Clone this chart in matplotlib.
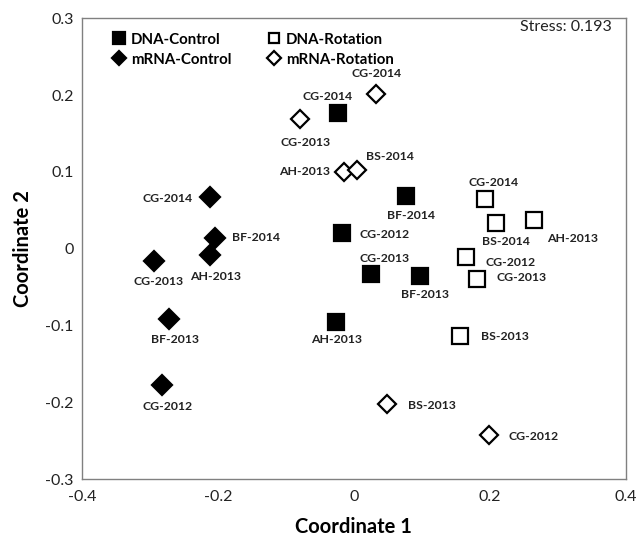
import matplotlib
matplotlib.use("Agg")
import matplotlib.pyplot as plt

plt.rcParams['font.family'] = ['Lato', 'DejaVu Sans']

# DNA-Control (filled squares)
dna_ctrl_names = ['CG-2014', 'BF-2014', 'CG-2012', 'CG-2013', 'BF-2013', 'AH-2013']
dna_ctrl_x = [-0.024, 0.076, -0.018, 0.025, 0.097, -0.026]
dna_ctrl_y = [0.176, 0.069, 0.020, -0.033, -0.035, -0.095]

# DNA-Rotation (open squares)
dna_rot_names = ['CG-2014', 'BS-2014', 'AH-2013', 'CG-2012', 'CG-2013', 'BS-2013']
dna_rot_x = [0.193, 0.209, 0.265, 0.165, 0.181, 0.156]
dna_rot_y = [0.064, 0.034, 0.037, -0.011, -0.040, -0.114]

# mRNA-Control (filled diamonds)
mrna_ctrl_names = ['CG-2014', 'BF-2014', 'AH-2013', 'CG-2013', 'BF-2013', 'CG-2012']
mrna_ctrl_x = [-0.212, -0.204, -0.211, -0.294, -0.272, -0.282]
mrna_ctrl_y = [0.067, 0.014, -0.008, -0.016, -0.091, -0.178]

# mRNA-Rotation (open diamonds)
mrna_rot_names = ['CG-2014', 'CG-2013', 'AH-2013', 'BS-2014', 'BS-2013', 'CG-2012']
mrna_rot_x = [0.033, -0.079, -0.015, 0.005, 0.049, 0.198]
mrna_rot_y = [0.201, 0.169, 0.100, 0.102, -0.202, -0.243]

stress = 0.193

# label placement (offset in points, alignment)
dna_ctrl_off = [(-7, 12, 'center'), (4, -14, 'center'), (13, -1, 'left'),
                (10, 11, 'center'), (4, -14, 'center'), (0, -13, 'center')]
dna_rot_off = [(6, 12, 'center'), (7, -14, 'center'), (9, -13, 'left'),
               (14, -4, 'left'), (14, 1, 'left'), (15, 0, 'left')]
mrna_ctrl_off = [(-12, -1, 'right'), (12, 0, 'left'), (4, -16, 'center'),
                 (3, -15, 'center'), (4, -15, 'center'), (4, -15, 'center')]
mrna_rot_off = [(0, 15, 'center'), (4, -17, 'center'), (-10, 0, 'right'),
                (6, 10, 'left'), (15, -1, 'left'), (14, -1, 'left')]

fig = plt.figure(figsize=(6.4, 5.37), dpi=100)
ax = fig.add_axes([0.128, 0.108, 0.85, 0.858])

series = [
    ('DNA-Control', dna_ctrl_x, dna_ctrl_y, dna_ctrl_names, dna_ctrl_off, 's', 12, 'black'),
    ('DNA-Rotation', dna_rot_x, dna_rot_y, dna_rot_names, dna_rot_off, 's', 11, 'white'),
    ('mRNA-Control', mrna_ctrl_x, mrna_ctrl_y, mrna_ctrl_names, mrna_ctrl_off, 'D', 10.5, 'black'),
    ('mRNA-Rotation', mrna_rot_x, mrna_rot_y, mrna_rot_names, mrna_rot_off, 'D', 9.5, 'white'),
]

handles = []
for label, xs, ys, names, offs, mk, ms, fc in series:
    h, = ax.plot(xs, ys, linestyle='none', marker=mk, markersize=ms,
                 markerfacecolor=fc, markeredgecolor='black', markeredgewidth=1.6,
                 label=label)
    handles.append(h)
    for x, y, name, (dx, dy, ha) in zip(xs, ys, names, offs):
        ax.annotate(name, (x, y), xytext=(dx, dy), textcoords='offset points',
                    ha=ha, va='center', fontsize=8.8, fontweight='bold', color='#222222')

ax.set_xlim(-0.4, 0.4)
ax.set_ylim(-0.3, 0.3)
ax.set_xticks([-0.4, -0.2, 0, 0.2, 0.4])
ax.set_xticklabels(['-0.4', '-0.2', '0', '0.2', '0.4'])
ax.set_yticks([-0.3, -0.2, -0.1, 0, 0.1, 0.2, 0.3])
ax.set_yticklabels(['-0.3', '-0.2', '-0.1', '0', '0.1', '0.2', '0.3'])
ax.tick_params(length=0, labelsize=11.5, colors='#222222')
ax.tick_params(axis='x', pad=8)
ax.tick_params(axis='y', pad=6)
for s in ax.spines.values():
    s.set_color('#808080')
    s.set_linewidth(1)

ax.set_xlabel('Coordinate 1', fontsize=14.5, fontweight='bold', labelpad=9)
ax.set_ylabel('Coordinate 2', fontsize=14.5, fontweight='bold', labelpad=9)

# legend: rows are Control, columns DNA/mRNA
order = [handles[0], handles[2], handles[1], handles[3]]
ax.legend(order, [h.get_label() for h in order], ncol=2, loc='upper left',
          bbox_to_anchor=(0.032, 0.998), frameon=False, markerscale=0.7,
          handlelength=0.8, handletextpad=0.4, columnspacing=2.45,
          labelspacing=0.4, prop={'weight': 'bold', 'size': 10.8})

ax.text(0.974, 0.996, 'Stress: %.3f' % stress, transform=ax.transAxes,
        ha='right', va='top', fontsize=11.5, color='#222222')

fig.savefig('out.png', dpi=100)
